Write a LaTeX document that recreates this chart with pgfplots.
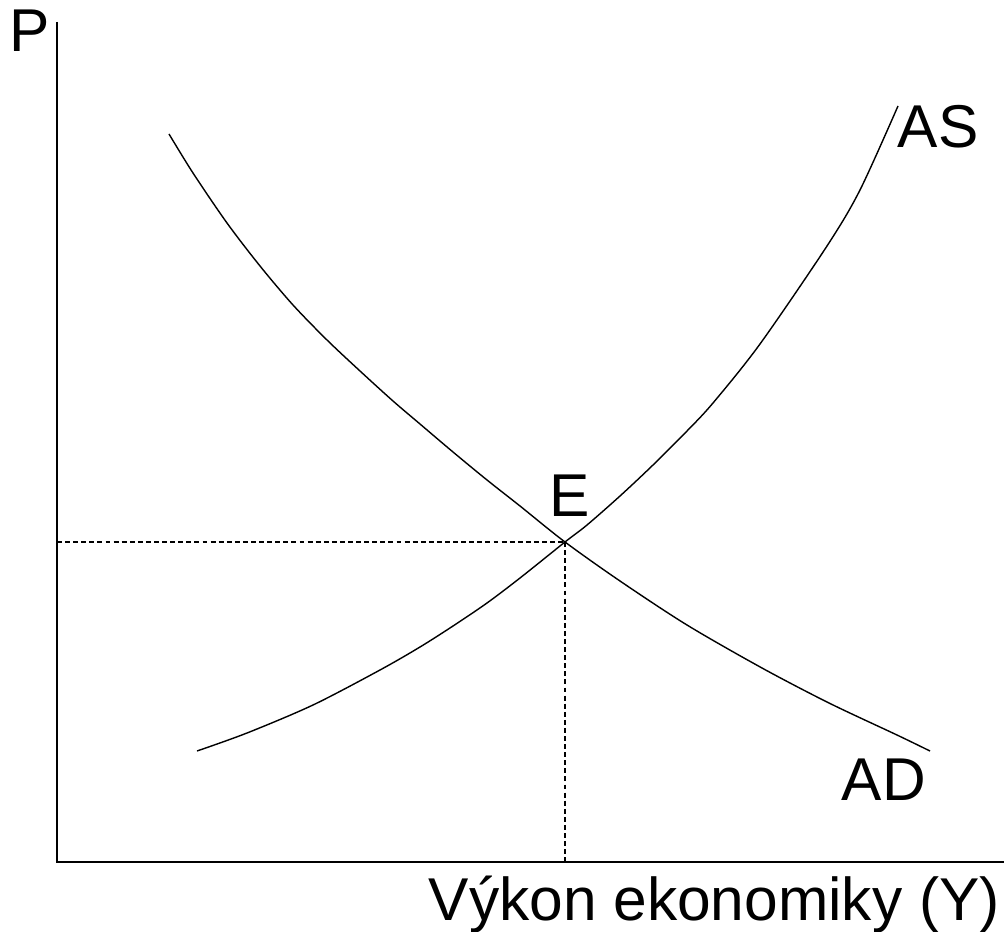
\documentclass[border=0pt]{standalone}
\usepackage{fontspec}
\setmainfont{Liberation Sans}
\usepackage{pgfplots}
\pgfplotsset{compat=1.18}
\tikzset{lbl/.style={font=\fontsize{17.2}{19}\selectfont, inner sep=0pt, anchor=base west}}

\begin{document}
\begin{tikzpicture}
\begin{axis}[
  scale only axis,
  width=10.04cm, height=9.32cm,
  xmin=0, xmax=1004, ymin=0, ymax=932,
  y dir=reverse,
  axis lines=none,
  clip=false,
  every axis plot/.append style={black, line width=0.4pt},
]
% axes
\addplot[line width=0.55pt] coordinates {(57,22) (57,862) (1004,862)};
% AD curve
\addplot[smooth] coordinates {
  (169,134) (193,173) (227,223) (260,266) (293,305) (327,340) (360,371)
  (393,401) (420,424) (453,452) (487,480) (520,506) (565,542) (620,581)
  (687,625) (762,668) (829,703) (897,735) (930,751)
};
% AS curve
\addplot[smooth] coordinates {
  (197,751) (247,733) (313,705) (380,670) (420,647) (453,626) (487,603)
  (520,578) (565,542) (587,525) (620,496) (653,465) (687,431) (713,403)
  (760,344) (827,246) (860,190) (898,106)
};
% equilibrium guides
\addplot[dash pattern=on 1.4pt off 0.9pt] coordinates {(57,542) (565,542)};
\addplot[dash pattern=on 1.4pt off 0.9pt] coordinates {(565,542) (565,862)};
\node[lbl] at (axis cs:9,52) {P};
\node[lbl] at (axis cs:549,516) {E};
\node[lbl] at (axis cs:897,148) {AS};
\node[lbl] at (axis cs:841,800) {AD};
\node[lbl] at (axis cs:428,920) {Výkon ekonomiky (Y)};
\end{axis}
\pgfresetboundingbox
\path[use as bounding box] (current axis.south west) rectangle (current axis.north east);
\end{tikzpicture}
\end{document}
